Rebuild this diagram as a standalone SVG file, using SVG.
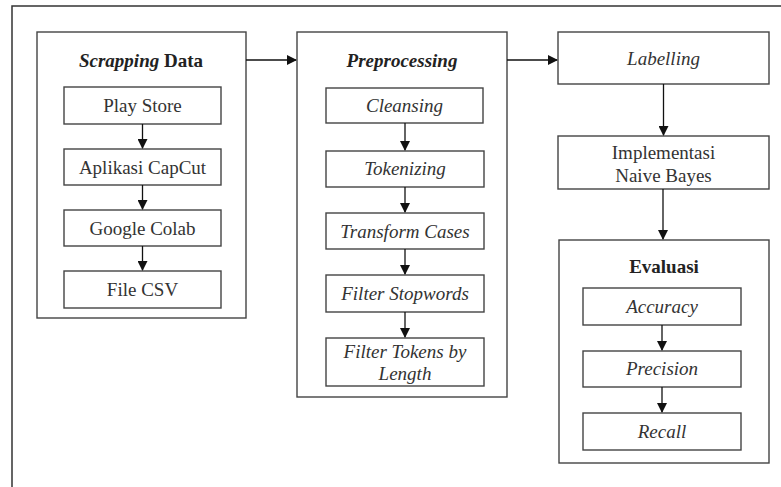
<svg xmlns="http://www.w3.org/2000/svg" width="781" height="487" viewBox="0 0 781 487">
<defs>
<marker id="ah" markerWidth="10" markerHeight="10" refX="9" refY="5" orient="auto" markerUnits="userSpaceOnUse">
<path d="M0,0 L10,5 L0,10 Z" fill="#111"/>
</marker>
<style>
.box{fill:#fff;stroke:#444;stroke-width:1.4}
.t{font-size:19px;fill:#333;text-anchor:middle}
.i{font-style:italic}
.b{font-weight:bold;fill:#222}
.c{stroke:#111;stroke-width:1.3;fill:none;marker-end:url(#ah)}
</style>
</defs>
<rect x="12" y="6" width="800" height="520" fill="#fff" stroke="#333" stroke-width="1.5"/>
<g font-family="'Liberation Serif', 'Times New Roman', 'DejaVu Serif', serif">
<g id="scrapping">
<rect class="box" x="37" y="32" width="209" height="286"/>
<text class="t b" x="141" y="67"><tspan class="i">Scrapping</tspan> Data</text>
</g>
<g id="playstore"><rect class="box" x="64" y="87" width="157" height="37"/><text class="t" x="142.5" y="112">Play Store</text></g>
<g id="capcut"><rect class="box" x="64" y="149" width="157" height="36"/><text class="t" x="142.5" y="174">Aplikasi CapCut</text></g>
<g id="colab"><rect class="box" x="64" y="210" width="157" height="36"/><text class="t" x="142.5" y="235">Google Colab</text></g>
<g id="csv"><rect class="box" x="64" y="271" width="157" height="37"/><text class="t" x="142.5" y="296">File CSV</text></g>

<g id="preprocessing">
<rect class="box" x="297" y="32" width="210" height="365"/>
<text class="t b i" x="402" y="67">Preprocessing</text>
</g>
<g id="cleansing"><rect class="box" x="326" y="88" width="157" height="35"/><text class="t i" x="404.5" y="112">Cleansing</text></g>
<g id="tokenizing"><rect class="box" x="326" y="151" width="158" height="36"/><text class="t i" x="405" y="175">Tokenizing</text></g>
<g id="transform"><rect class="box" x="326" y="213" width="158" height="36"/><text class="t i" x="405" y="238">Transform Cases</text></g>
<g id="stopwords"><rect class="box" x="326" y="275" width="158" height="37"/><text class="t i" x="405" y="300">Filter Stopwords</text></g>
<g id="tokenslength"><rect class="box" x="326" y="338" width="158" height="48"/><text class="t i" x="405" y="358">Filter Tokens by</text><text class="t i" x="405" y="380">Length</text></g>

<g id="labelling"><rect class="box" x="558" y="32" width="211" height="52"/><text class="t i" x="663.5" y="65">Labelling</text></g>
<g id="naivebayes"><rect class="box" x="558" y="136" width="211" height="53"/><text class="t" x="663.5" y="159">Implementasi</text><text class="t" x="663.5" y="182">Naive Bayes</text></g>

<g id="evaluasi">
<rect class="box" x="559" y="240" width="210" height="223"/>
<text class="t b" x="664" y="273">Evaluasi</text>
</g>
<g id="accuracy"><rect class="box" x="583" y="288" width="158" height="37"/><text class="t i" x="662" y="313">Accuracy</text></g>
<g id="precision"><rect class="box" x="583" y="351" width="158" height="36"/><text class="t i" x="662" y="375">Precision</text></g>
<g id="recall"><rect class="box" x="583" y="413" width="158" height="37"/><text class="t i" x="662" y="438">Recall</text></g>
</g>
<g id="connectors">
<path class="c" d="M246,60 H296"/>
<path class="c" d="M507,60 H557"/>
<path class="c" d="M142.5,124 V148"/>
<path class="c" d="M142.5,185 V209"/>
<path class="c" d="M142.5,246 V270"/>
<path class="c" d="M405,123 V150"/>
<path class="c" d="M405,187 V212"/>
<path class="c" d="M405,249 V274"/>
<path class="c" d="M405,312 V337"/>
<path class="c" d="M663.5,84 V135"/>
<path class="c" d="M663,189 V239"/>
<path class="c" d="M662,325 V350"/>
<path class="c" d="M662,387 V412"/>
</g>
</svg>
